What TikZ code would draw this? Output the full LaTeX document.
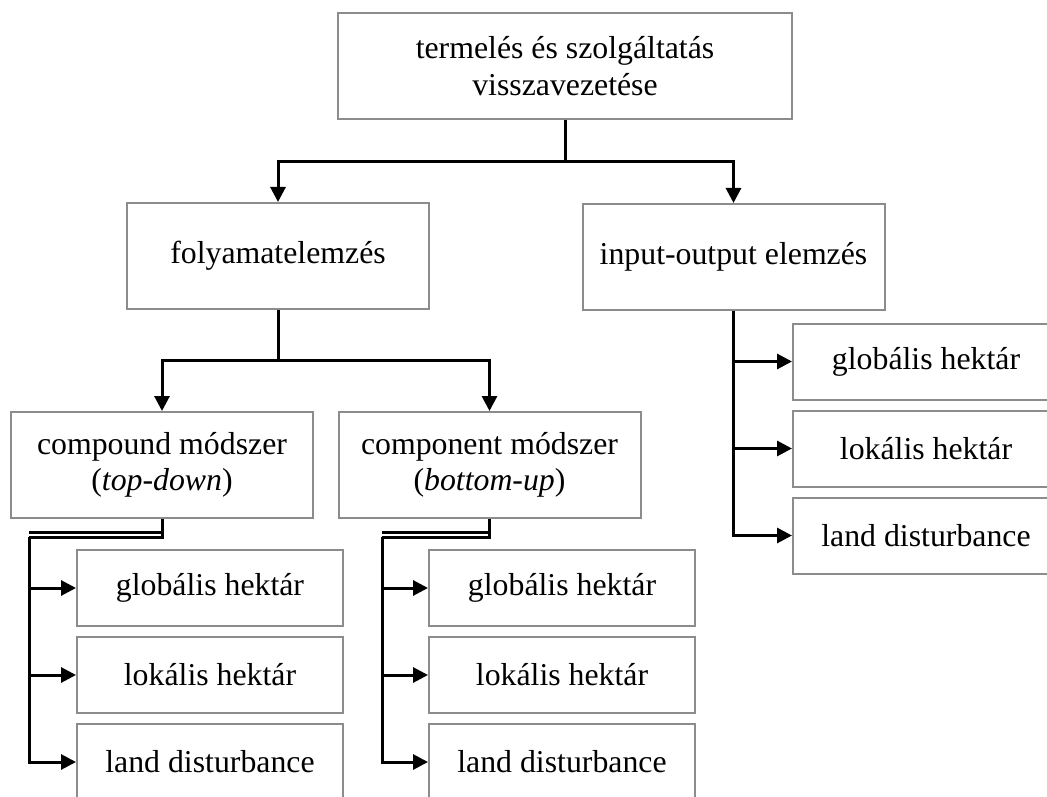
\documentclass[tikz,border=0pt]{standalone}
\usepackage{fontspec}
\setmainfont{Liberation Serif}
\usetikzlibrary{arrows.meta}
\tikzstyle{topic} = [rectangle,
minimum width=227pt,
minimum height=53pt,
align=center,
draw=black!45,
line width=1pt]
\tikzstyle{method} = [rectangle,
minimum width=151pt,
minimum height=53pt,
align=center,
draw=black!45,
line width=1pt]
\tikzstyle{measure} = [rectangle,
minimum width=133pt,
minimum height=38pt,
text centered,
draw=black!45,
line width=1pt]
\tikzstyle{link} = [line width=1.5pt]
\tikzstyle{arrow} = [line width=1.5pt,-{Triangle[length=7.5pt,width=7.5pt]}]

\begin{document}
\begin{tikzpicture}[x=0.5pt, y=-0.5pt, node distance=43.5pt, font=\fontsize{15.9}{18.2}\selectfont]
\useasboundingbox (0,0) rectangle (1047,796);
\clip (0,0) rectangle (1047,796);

\node (top) [topic] at (565,66) {termelés és szolgáltatás\\ visszavezetése};
\node (process) [method] at (278,256) {folyamatelemzés};
\node (io) [method] at (733.5,257) {input-output elemzés};
\node (compound) [method] at (162,465) {compound módszer\\ (\textit{top-down})};
\node (component) [method] at (489.5,465) {component módszer\\ (\textit{bottom-up})};

\node (ioglob) [measure] at (926,361.5) {globális hektár};
\node (ioloc) [measure, below of=ioglob] {lokális hektár};
\node (ioland) [measure, below of=ioloc] {land disturbance};

\node (cpglob) [measure] at (210,588) {globális hektár};
\node (cploc) [measure, below of=cpglob] {lokális hektár};
\node (cpland) [measure, below of=cploc] {land disturbance};

\node (coglob) [measure] at (562,588) {globális hektár};
\node (coloc) [measure, below of=coglob] {lokális hektár};
\node (coland) [measure, below of=coloc] {land disturbance};

\coordinate (split1) at (565,162);
\coordinate (split2) at (278,360);
\coordinate (cpbend) at (29,537);
\coordinate (cobend) at (382,537);

\draw [link] (top) -- (split1);
\draw [arrow] (split1) -| (process);
\draw [arrow] (split1) -| (io);

\draw [link] (process) -- (split2);
\draw [arrow] (split2) -| (compound);
\draw [arrow] (split2) -| (component);

\draw [arrow] (io) |- (ioglob);
\draw [arrow] (io) |- (ioloc);
\draw [arrow] (io) |- (ioland);

\draw [link] (compound) |- (cpbend);
\draw [link] (cpbend) ++(0,-4.5) -- ++(134,0);
\draw [arrow] (cpbend) |- (cpglob);
\draw [arrow] (cpbend) |- (cploc);
\draw [arrow] (cpbend) |- (cpland);

\draw [link] (component) |- (cobend);
\draw [link] (cobend) ++(0,-4.5) -- ++(107,0);
\draw [arrow] (cobend) |- (coglob);
\draw [arrow] (cobend) |- (coloc);
\draw [arrow] (cobend) |- (coland);

\end{tikzpicture}
\end{document}
